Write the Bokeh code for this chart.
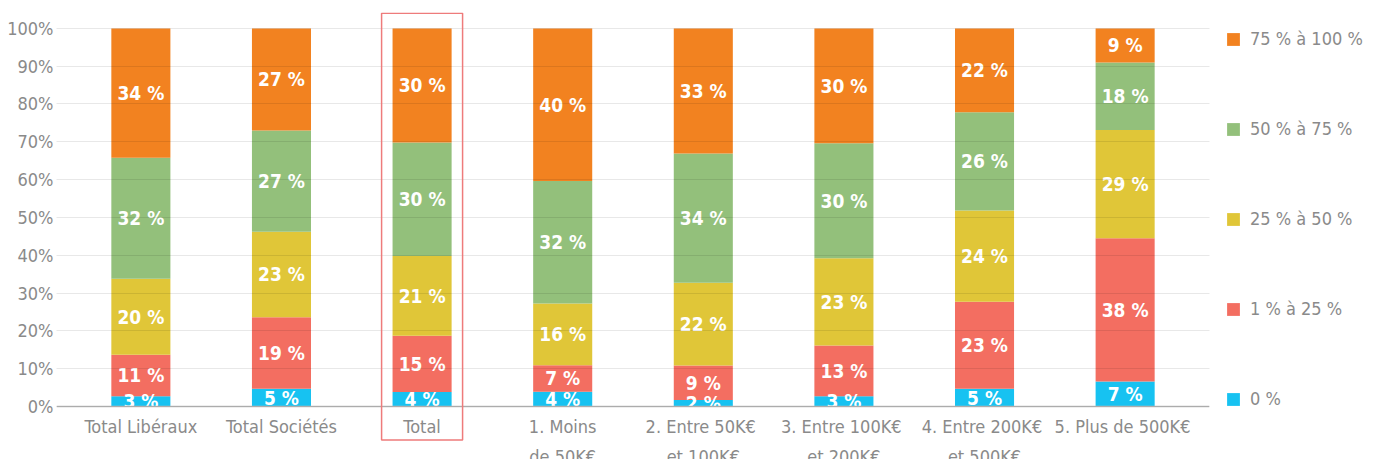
from bokeh.plotting import figure
from bokeh.models import (ColumnDataSource, FactorRange, Range1d, Legend, LegendItem,
                          BoxAnnotation, PrintfTickFormatter, FixedTicker)
from bokeh.core.properties import value
from bokeh.embed import file_html
from bokeh.resources import INLINE

# ---------------- data ----------------
categories = [
    "Total Libéraux",
    "Total Sociétés",
    "Total",
    "1. Moins\nde 50K€",
    "2.  Entre 50K€\net 100K€",
    "3.  Entre 100K€\net 200K€",
    "4.  Entre 200K€\net 500K€",
    "5.  Plus de 500K€",
]
series_names = ["0 %", "1 % à 25 %", "25 % à 50 %", "50 % à 75 %", "75 % à 100 %"]
s_0 = [2.7, 4.7, 3.8, 3.9, 1.7, 2.7, 4.7, 6.6]
s_1_25 = [11.0, 18.9, 14.9, 7.0, 9.1, 13.4, 23.0, 37.9]
s_25_50 = [20.1, 22.6, 21.1, 16.3, 21.9, 23.1, 24.1, 28.6]
s_50_75 = [32.0, 26.8, 30.0, 32.4, 34.2, 30.4, 26.0, 17.9]
s_75_100 = [34.2, 27.0, 30.2, 40.4, 33.1, 30.4, 22.2, 9.0]
colors = ["#17C2F1", "#F36E61", "#E0C638", "#93C07B", "#F28220"]
highlight = "Total"
y_ticks = [0, 10, 20, 30, 40, 50, 60, 70, 80, 90, 100]

series = [s_0, s_1_25, s_25_50, s_50_75, s_75_100]
keys = ["s0", "s1", "s2", "s3", "s4"]

FONT = "DejaVu Sans Condensed"
GRAY = "#8a8a8a"

data = {"cat": categories}
for k, s in zip(keys, series):
    data[k] = s
source = ColumnDataSource(data)

p = figure(
    x_range=FactorRange(*categories, range_padding=0.1, range_padding_units="absolute"),
    y_range=Range1d(-14.3, 104.2),
    frame_width=1153, frame_height=448,
    output_backend="svg", toolbar_location=None,
    min_border_left=56, min_border_right=154, min_border_top=12, min_border_bottom=0,
    outline_line_color=None,
)

renderers = p.vbar_stack(keys, x="cat", width=0.42, source=source,
                         color=colors, line_color=None)

# value labels
lx, ly, lt = [], [], []
for i, c in enumerate(categories):
    base = 0.0
    for s in series:
        v = s[i]
        lx.append(c)
        ly.append(base + v / 2.0)
        lt.append(f"{round(v)} %")
        base += v
p.text(x=lx, y=ly, text=lt, text_color="white", text_font=value(FONT),
       text_font_style="bold", text_font_size="19px",
       text_align="center", text_baseline="middle")

# highlight box around "Total"
idx = categories.index(highlight) + 0.5
p.add_layout(BoxAnnotation(left=idx - 0.288, right=idx + 0.288, top=104.0, bottom=-8.9,
                           fill_color=None, fill_alpha=0, line_color="#ee7b7b",
                           line_alpha=1.0, line_width=1.5, level="overlay"))

# axes / grid
p.xgrid.grid_line_color = None
p.ygrid.ticker = FixedTicker(ticks=y_ticks)
p.ygrid.grid_line_color = "black"
p.ygrid.grid_line_alpha = 0.09
p.ygrid.level = "annotation"

p.yaxis.ticker = FixedTicker(ticks=y_ticks)
p.yaxis.formatter = PrintfTickFormatter(format="%d%%")
p.yaxis.axis_line_color = None
p.yaxis.major_tick_line_color = None
p.yaxis.major_tick_out = 0
p.yaxis.major_tick_in = 0
p.yaxis.minor_tick_line_color = None
p.yaxis.major_label_text_font = FONT
p.yaxis.major_label_text_font_size = "18px"
p.yaxis.major_label_text_color = GRAY
p.yaxis.major_label_standoff = 3

p.xaxis.fixed_location = 0
p.xaxis.axis_line_color = "#bdbdbd"
p.xaxis.axis_line_width = 1.5
p.xaxis.major_tick_line_color = None
p.xaxis.major_tick_out = 0
p.xaxis.major_tick_in = 0
p.xaxis.minor_tick_line_color = None
p.xaxis.major_label_text_font = FONT
p.xaxis.major_label_text_font_size = "18px"
p.xaxis.major_label_text_color = GRAY
p.xaxis.major_label_standoff = 10
p.xaxis.major_label_text_line_height = 1.4

items = [LegendItem(label=n, renderers=[r]) for n, r in zip(series_names, renderers)][::-1]
legend = Legend(items=items, location="top_left", margin=16, padding=0,
                border_line_color=None, background_fill_alpha=0,
                glyph_width=16, glyph_height=16, label_height=14,
                spacing=69, label_standoff=9,
                label_text_font=FONT, label_text_font_size="18px",
                label_text_color=GRAY)
p.add_layout(legend, "right")

open("out.html", "w").write(file_html(p, INLINE))
